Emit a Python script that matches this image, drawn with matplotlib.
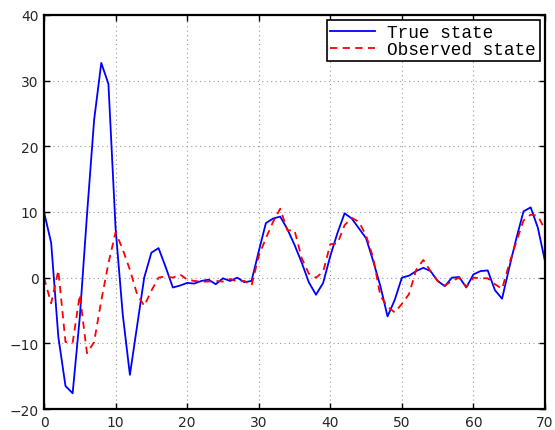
#!/usr/bin/env python3
"""Recreate the true vs observed state line chart and save to out.png."""

import matplotlib

matplotlib.use("Agg")
import matplotlib.pyplot as plt
import numpy as np

steps = np.arange(0, 71)

true_state = [
    10.0, 5.3, -9.0, -16.5, -17.6, -6.0, 9.5, 24.0, 32.7, 29.5,
    7.5, -5.6, -14.8, -7.4, 0.0, 3.8, 4.5, 1.6, -1.5, -1.2,
    -0.8, -0.9, -0.5, -0.3, -1.0, -0.1, -0.5, 0.0, -0.7, -0.5,
    4.0, 8.3, 9.0, 9.3, 7.4, 5.0, 2.3, -0.7, -2.6, -0.8,
    3.3, 6.8, 9.8, 9.0, 7.5, 6.0, 2.5, -1.3, -5.9, -3.4,
    0.0, 0.3, 1.0, 1.5, 1.0, -0.5, -1.3, 0.0, 0.1, -1.5,
    0.5, 1.0, 1.1, -1.9, -3.2, 1.5, 6.0, 10.1, 10.7, 7.6,
    2.5,
]

observed_state = [
    0.0, -3.9, 1.1, -9.8, -9.9, -2.6, -11.5, -9.8, -3.5, 2.2,
    6.9, 4.3, 1.2, -2.5, -4.3, -2.0, 0.0, 0.2, 0.0, 0.5,
    -0.3, -0.5, -0.6, -0.6, -0.5, -0.6, -0.2, -0.6, -0.5, -1.2,
    3.3, 6.0, 8.5, 10.5, 7.2, 7.2, 3.0, 0.6, 0.0, 0.9,
    5.1, 5.2, 8.0, 9.1, 8.5, 6.4, 3.0, -2.8, -4.4, -5.3,
    -4.0, -2.5, 1.2, 2.7, 1.0, -0.5, -1.2, -0.5, 0.0, -1.4,
    0.0, -0.1, -0.1, -1.0, -1.7, 2.1, 5.5, 8.7, 9.6, 9.4,
    7.3,
]

x_ticks = [0, 10, 20, 30, 40, 50, 60, 70]
y_ticks = [-20, -10, 0, 10, 20, 30, 40]

fig = plt.figure(figsize=(5.55, 4.31), dpi=100)
ax = fig.add_axes([0.0793, 0.0487, 0.9027, 0.9143])

ax.plot(steps, true_state, color="#0000ff", linewidth=1.3, label="True state")
ax.plot(steps, observed_state, color="#ff0000", linewidth=1.3,
        linestyle=(0, (4, 3)), label="Observed state")

ax.set_xlim(0, 70)
ax.set_ylim(-20, 40)
ax.set_xticks(x_ticks)
ax.set_yticks(y_ticks)
ax.grid(True, color="#999999", linestyle=(0, (1, 3)), linewidth=0.8)
ax.tick_params(direction="in", length=4, width=1.0, top=True, right=True,
               labelsize=10, labelcolor="#262626", pad=4)
for spine in ax.spines.values():
    spine.set_linewidth(1.6)

leg = ax.legend(loc="upper right", prop={"family": "Liberation Mono", "size": 12.8},
                frameon=True, fancybox=False, borderpad=0.2, labelspacing=0.0,
                handlelength=2.5, handletextpad=0.7, borderaxespad=0.3)
leg.get_frame().set_edgecolor("black")
leg.get_frame().set_linewidth(1.2)
leg.get_frame().set_alpha(1.0)

fig.savefig("out.png", dpi=100)
plt.close(fig)
